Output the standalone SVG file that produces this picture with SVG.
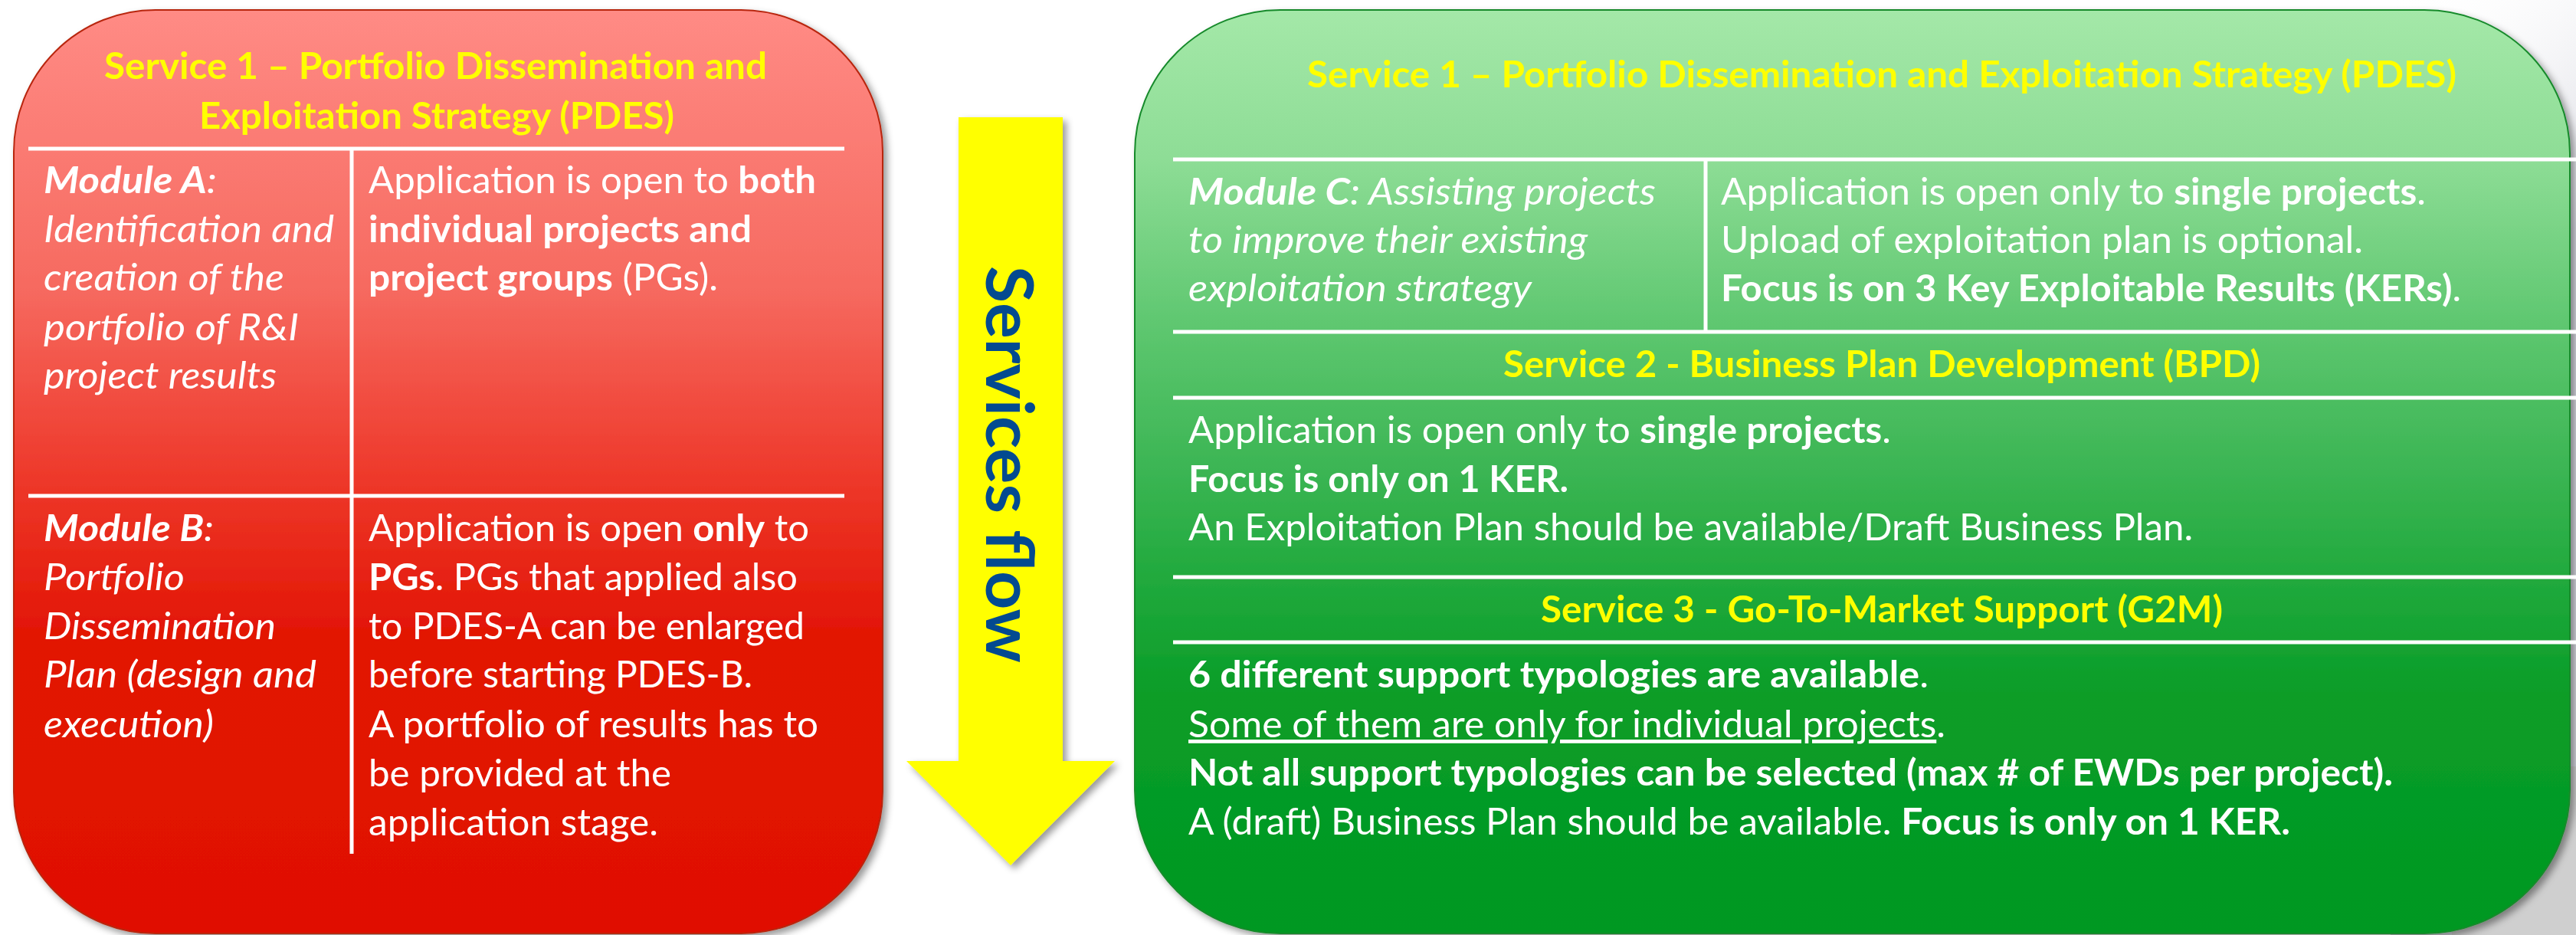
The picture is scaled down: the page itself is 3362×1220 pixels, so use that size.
<svg xmlns="http://www.w3.org/2000/svg" width="3362" height="1220" viewBox="0 0 3362 1220">
  <defs>
    <linearGradient id="redGrad" gradientUnits="userSpaceOnUse" x1="0" y1="13" x2="0" y2="1218">
      <stop offset="0" stop-color="#FF8B85"/>
      <stop offset="0.3" stop-color="#F66A60"/>
      <stop offset="0.5" stop-color="#EE3A2C"/>
      <stop offset="0.68" stop-color="#E21504"/>
      <stop offset="1" stop-color="#E01000"/>
    </linearGradient>
    <linearGradient id="greenGrad" gradientUnits="userSpaceOnUse" x1="0" y1="13" x2="0" y2="1218">
      <stop offset="0" stop-color="#A4E8A8"/>
      <stop offset="0.16" stop-color="#8EDD96"/>
      <stop offset="0.35" stop-color="#5CC66E"/>
      <stop offset="0.49" stop-color="#3DB655"/>
      <stop offset="0.61" stop-color="#22AA3E"/>
      <stop offset="0.74" stop-color="#0A9D28"/>
      <stop offset="1" stop-color="#009822"/>
    </linearGradient>
    <linearGradient id="bgShade" gradientUnits="userSpaceOnUse" x1="3120" y1="0" x2="3362" y2="300">
      <stop offset="0" stop-color="#FFFFFF" stop-opacity="0"/>
      <stop offset="1" stop-color="#D6D7DF"/>
    </linearGradient>
    <filter id="shadow" x="-5%" y="-5%" width="115%" height="115%">
      <feDropShadow dx="5" dy="5" stdDeviation="5" flood-color="#000000" flood-opacity="0.4"/>
    </filter>
    <style>
      .t { font-family: Lato, "Liberation Sans", sans-serif; font-size: 48px; fill: #FFFFFF; }
      .y { font-family: Lato, "Liberation Sans", sans-serif; font-size: 48px; fill: #FFFF00; font-weight: bold; }
      .b { font-weight: bold; }
      .i { font-style: italic; }
      .u { text-decoration: underline; }
      .wl { stroke: #FFFFFF; stroke-width: 5; }
      .flow { font-family: Lato, "Liberation Sans", sans-serif; font-size: 86px; font-weight: bold; fill: #034A90; }
    </style>
  </defs>

  <rect x="0" y="0" width="3362" height="1220" fill="#FFFFFF"/>
  <rect x="3120" y="0" width="242" height="1220" fill="url(#bgShade)"/>
  <rect x="3200" y="1000" width="162" height="220" fill="#CFCFCF"/>

  <g id="service1-pdes-ab">
    <rect x="18" y="13" width="1134" height="1205" rx="185" ry="185" fill="url(#redGrad)" stroke="#B8250F" stroke-width="2" filter="url(#shadow)"/>
    <line class="wl" x1="37" y1="194" x2="1102" y2="194"/>
    <line class="wl" x1="37" y1="647" x2="1102" y2="647"/>
    <line class="wl" x1="459" y1="194" x2="459" y2="1114"/>
    <text class="y" x="136" y="103" textLength="865" lengthAdjust="spacingAndGlyphs">Service 1 – Portfolio Dissemination and</text>
    <text class="y" x="260" y="168" textLength="620" lengthAdjust="spacingAndGlyphs">Exploitation Strategy (PDES)</text>

    <text class="t i" x="57" y="252" textLength="226" lengthAdjust="spacingAndGlyphs"><tspan class="b">Module A</tspan>:</text>
    <text class="t i" x="57" y="316" textLength="379" lengthAdjust="spacingAndGlyphs">Identification and</text>
    <text class="t i" x="57" y="379" textLength="314" lengthAdjust="spacingAndGlyphs">creation of the</text>
    <text class="t i" x="57" y="444" textLength="333" lengthAdjust="spacingAndGlyphs">portfolio of R&amp;I</text>
    <text class="t i" x="57" y="507" textLength="304" lengthAdjust="spacingAndGlyphs">project results</text>

    <text class="t" x="481" y="252" textLength="584" lengthAdjust="spacingAndGlyphs">Application is open to <tspan class="b">both</tspan></text>
    <text class="t b" x="481" y="316" textLength="500" lengthAdjust="spacingAndGlyphs">individual projects and</text>
    <text class="t" x="481" y="379" textLength="456" lengthAdjust="spacingAndGlyphs"><tspan class="b">project groups</tspan> (PGs).</text>

    <text class="t i" x="57" y="706" textLength="222" lengthAdjust="spacingAndGlyphs"><tspan class="b">Module B</tspan>:</text>
    <text class="t i" x="57" y="770" textLength="184" lengthAdjust="spacingAndGlyphs">Portfolio</text>
    <text class="t i" x="57" y="834" textLength="303" lengthAdjust="spacingAndGlyphs">Dissemination</text>
    <text class="t i" x="57" y="897" textLength="356" lengthAdjust="spacingAndGlyphs">Plan (design and</text>
    <text class="t i" x="57" y="962" textLength="222" lengthAdjust="spacingAndGlyphs">execution)</text>

    <text class="t" x="481" y="706" textLength="575" lengthAdjust="spacingAndGlyphs">Application is open <tspan class="b">only</tspan> to</text>
    <text class="t" x="481" y="770" textLength="560" lengthAdjust="spacingAndGlyphs"><tspan class="b">PGs</tspan>. PGs that applied also</text>
    <text class="t" x="481" y="834" textLength="569" lengthAdjust="spacingAndGlyphs">to PDES-A can be enlarged</text>
    <text class="t" x="481" y="897" textLength="501" lengthAdjust="spacingAndGlyphs">before starting PDES-B.</text>
    <text class="t" x="481" y="962" textLength="587" lengthAdjust="spacingAndGlyphs">A portfolio of results has to</text>
    <text class="t" x="481" y="1026" textLength="395" lengthAdjust="spacingAndGlyphs">be provided at the</text>
    <text class="t" x="481" y="1090" textLength="378" lengthAdjust="spacingAndGlyphs">application stage.</text>
  </g>

  <g id="services-flow">
    <polygon points="1251,153 1387,153 1387,993 1455,993 1319,1129 1183,993 1251,993" fill="#FFFF00" filter="url(#shadow)"/>
    <text class="flow" transform="translate(1287,347) rotate(90)" textLength="518" lengthAdjust="spacingAndGlyphs">Services flow</text>
  </g>

  <g id="services-cde">
    <rect x="1481" y="13" width="1873" height="1205" rx="190" ry="187" fill="url(#greenGrad)" stroke="#178A2C" stroke-width="2" filter="url(#shadow)"/>
    <line class="wl" x1="1531" y1="208" x2="3362" y2="208"/>
    <line class="wl" x1="1531" y1="433" x2="3362" y2="433"/>
    <line class="wl" x1="1531" y1="519" x2="3362" y2="519"/>
    <line class="wl" x1="1531" y1="753" x2="3362" y2="753"/>
    <line class="wl" x1="1531" y1="838" x2="3362" y2="838"/>
    <line class="wl" x1="2226" y1="208" x2="2226" y2="433"/>

    <text class="y" x="1706" y="114" textLength="1500" lengthAdjust="spacingAndGlyphs">Service 1 – Portfolio Dissemination and Exploitation Strategy (PDES)</text>

    <text class="t i" x="1551" y="267" textLength="610" lengthAdjust="spacingAndGlyphs"><tspan class="b">Module C</tspan>: Assisting projects</text>
    <text class="t i" x="1551" y="330" textLength="521" lengthAdjust="spacingAndGlyphs">to improve their existing</text>
    <text class="t i" x="1551" y="393" textLength="448" lengthAdjust="spacingAndGlyphs">exploitation strategy</text>

    <text class="t" x="2246" y="267" textLength="920" lengthAdjust="spacingAndGlyphs">Application is open only to <tspan class="b">single projects</tspan>.</text>
    <text class="t" x="2246" y="330" textLength="838" lengthAdjust="spacingAndGlyphs">Upload of exploitation plan is optional.</text>
    <text class="t" x="2246" y="393" textLength="966" lengthAdjust="spacingAndGlyphs"><tspan class="b">Focus is on 3 Key Exploitable Results (KERs)</tspan>.</text>

    <text class="y" x="1962" y="492" textLength="988" lengthAdjust="spacingAndGlyphs">Service 2 - Business Plan Development (BPD)</text>
    <text class="t" x="1551" y="578" textLength="917" lengthAdjust="spacingAndGlyphs">Application is open only to <tspan class="b">single projects</tspan>.</text>
    <text class="t b" x="1551" y="642" textLength="496" lengthAdjust="spacingAndGlyphs">Focus is only on 1 KER.</text>
    <text class="t" x="1551" y="705" textLength="1311" lengthAdjust="spacingAndGlyphs">An Exploitation Plan should be available/Draft Business Plan.</text>

    <text class="y" x="2011" y="812" textLength="890" lengthAdjust="spacingAndGlyphs">Service 3 - Go-To-Market Support (G2M)</text>
    <text class="t" x="1551" y="897" textLength="966" lengthAdjust="spacingAndGlyphs"><tspan class="b">6 different support typologies are available</tspan>.</text>
    <text class="t" x="1551" y="962" textLength="988" lengthAdjust="spacingAndGlyphs"><tspan class="u">Some of them are only for individual projects</tspan>.</text>
    <text class="t b" x="1551" y="1025" textLength="1572" lengthAdjust="spacingAndGlyphs">Not all support typologies can be selected (max # of EWDs per project).</text>
    <text class="t" x="1551" y="1089" textLength="1438" lengthAdjust="spacingAndGlyphs">A (draft) Business Plan should be available. <tspan class="b">Focus is only on 1 KER.</tspan></text>
  </g>
</svg>
